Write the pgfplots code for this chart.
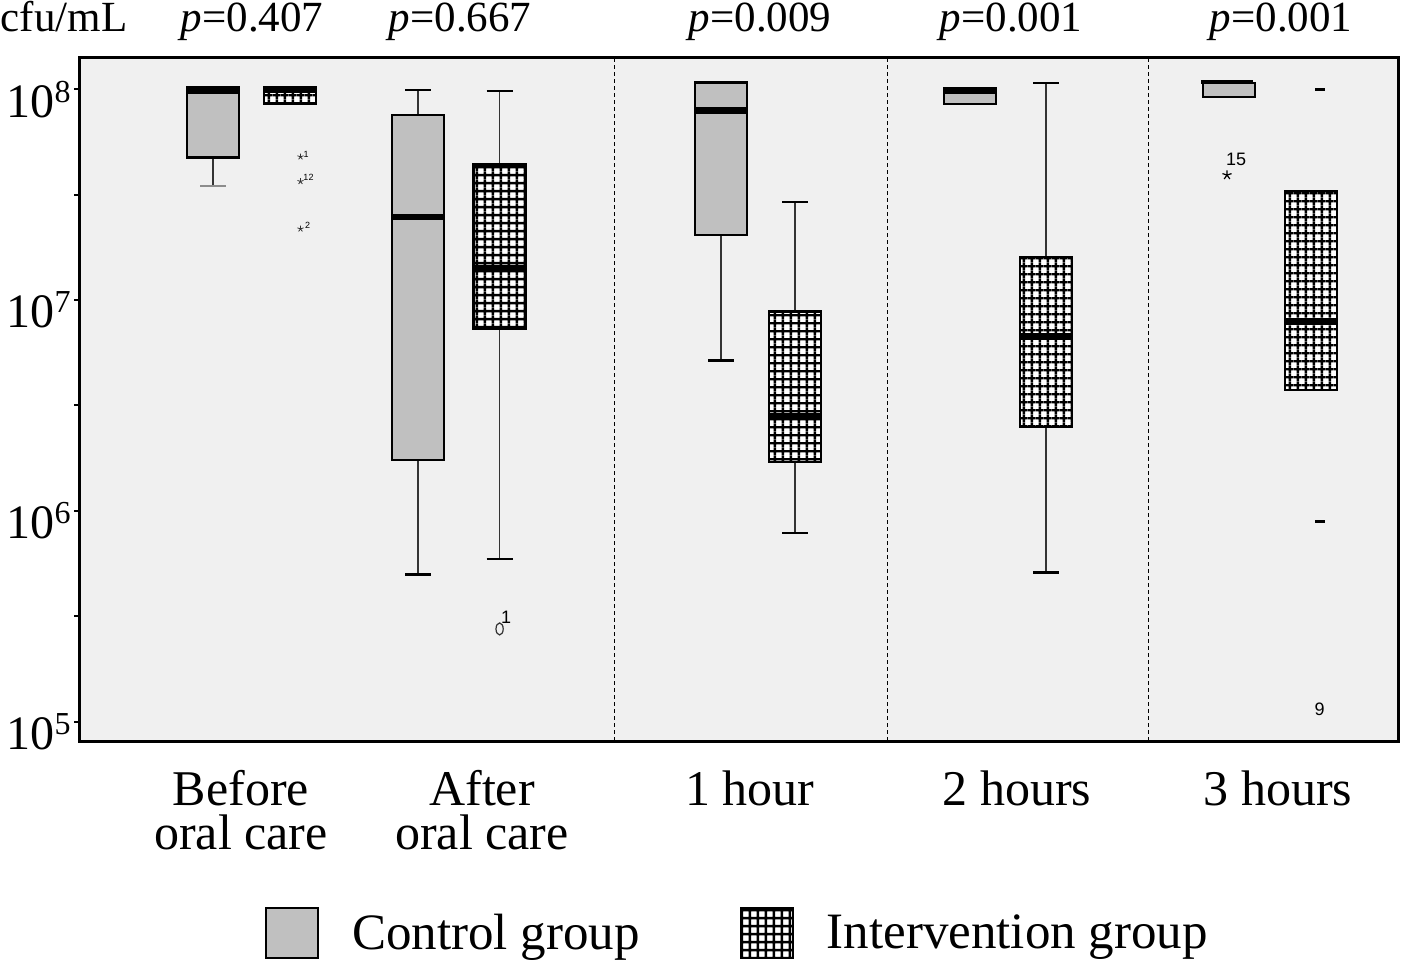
\documentclass[border=0pt]{standalone}
\usepackage{fontspec}
\setmainfont{Liberation Serif}
\newfontfamily\lsans{Liberation Sans}
\usepackage{pgfplots}
\pgfplotsset{compat=1.18}
\usetikzlibrary{patterns}
\definecolor{bg}{RGB}{240,240,240}
\definecolor{ctrl}{RGB}{192,192,192}
\pgfdeclarepatternformonly{mygrid}{\pgfpointorigin}{\pgfpoint{4.15bp}{4.15bp}}{\pgfpoint{4.15bp}{4.15bp}}{%
 \pgfsetlinewidth{1.25bp}%
 \pgfpathmoveto{\pgfpoint{0bp}{2.075bp}}\pgfpathlineto{\pgfpoint{4.15bp}{2.075bp}}%
 \pgfpathmoveto{\pgfpoint{2.075bp}{0bp}}\pgfpathlineto{\pgfpoint{2.075bp}{4.15bp}}%
 \pgfusepath{stroke}}
\pgfplotsset{
 cbox/.style={draw=black, fill=ctrl, line width=1.2bp, mark=none, forget plot},
 iwhite/.style={draw=none, fill=white, mark=none, forget plot},
 ibox/.style={draw=black, pattern=mygrid, line width=1.3bp, mark=none, forget plot},
 med/.style={black, line width=3.2bp, mark=none, forget plot},
 whi/.style={black!80, line width=0.9bp, mark=none, forget plot},
 cap/.style={black, line width=1.2bp, mark=none, forget plot},
}
\newcommand\lab[1]{{\lsans\fontsize{4.5bp}{5bp}\selectfont #1}}
\newcommand\labb[1]{{\lsans\fontsize{9bp}{10bp}\selectfont #1}}
\newcommand\tp[1]{10\raisebox{7.5bp}{\fontsize{16bp}{16bp}\selectfont #1}}
% y values are log10(cfu/mL); x in position units
\begin{document}
\begin{tikzpicture}
\useasboundingbox (0,0) rectangle (707bp,480.5bp);
\begin{axis}[
 at={(39.5bp,110bp)}, anchor=south west,
 scale only axis, width=659.5bp, height=341.5bp,
 xmin=79, xmax=1398,
 ymin=4.9084, ymax=8.1485,
 axis background/.style={fill=bg},
 axis line style={line width=1.5bp},
 clip=false,
 xtick={241,482,750,1017,1278},
 xticklabels={{Before\\oral care},{After\\oral care},{1 hour},{2 hours},{3 hours}},
 xtick style={draw=none},
 xticklabel style={align=center, anchor=north, inner sep=0pt, yshift=-12bp,
   font=\fontsize{25bp}{22bp}\selectfont},
 ytick={5,6,7,8},
 yticklabels={\tp{5},\tp{6},\tp{7},\tp{8}},
 extra y ticks={5.5,6.5,7.5},
 extra y tick labels={},
 tick pos=left, tick align=outside, major tick length=2.5bp,
 ytick style={line width=1bp, black},
 yticklabel style={inner sep=1.5bp, yshift=-5bp, font=\fontsize{24bp}{24bp}\selectfont},
 legend columns=2,
 legend style={at={(0.5,-0.281)}, anchor=center, draw=none, fill=none,
   font=\fontsize{25.5bp}{25.5bp}\selectfont,
   /tikz/every even column/.append style={column sep=48bp}},
]
% dashed separators
\addplot[black, line width=0.5bp, dash pattern=on 2bp off 1.5bp, forget plot] coordinates {(614,4.9084) (614,8.1485)};
\addplot[black, line width=0.5bp, dash pattern=on 2bp off 1.5bp, forget plot] coordinates {(887,4.9084) (887,8.1485)};
\addplot[black, line width=0.5bp, dash pattern=on 2bp off 1.5bp, forget plot] coordinates {(1148,4.9084) (1148,8.1485)};
% ---- Before oral care, control: pos 213, lw 7.540, lq 7.677, med 7.993, uq 8.009
\addplot[whi] coordinates {(213,7.677) (213,7.540)};
\addplot[cap, draw=black!45] coordinates {(200,7.540) (226,7.540)};
\addplot[cbox] coordinates {(187,7.677) (239,7.677) (239,8.009) (187,8.009)} -- cycle;
\addplot[med] coordinates {(187,7.993) (239,7.993)};
% ---- Before, intervention: pos 290, lq 7.934, med 7.996, uq 8.009
\addplot[iwhite] coordinates {(264,7.934) (316,7.934) (316,8.009) (264,8.009)} -- cycle;
\addplot[ibox] coordinates {(264,7.934) (316,7.934) (316,8.009) (264,8.009)} -- cycle;
\addplot[med] coordinates {(264,7.996) (316,7.996)};
% ---- After, control: pos 418, lw 5.699, lq 6.241, med 7.393, uq 7.877, uw 7.996
\addplot[whi] coordinates {(418,5.699) (418,6.241)};
\addplot[whi] coordinates {(418,7.877) (418,7.996)};
\addplot[cap] coordinates {(405,5.699) (431,5.699)};
\addplot[cap] coordinates {(405,7.996) (431,7.996)};
\addplot[cbox] coordinates {(392,6.241) (444,6.241) (444,7.877) (392,7.877)} -- cycle;
\addplot[med] coordinates {(392,7.393) (444,7.393)};
% ---- After, intervention: pos 499.5, lw 5.773, lq 6.866, med 7.151, uq 7.644, uw 7.991
\addplot[whi] coordinates {(499.5,5.773) (499.5,6.866)};
\addplot[whi] coordinates {(499.5,7.644) (499.5,7.991)};
\addplot[cap] coordinates {(486.5,5.773) (512.5,5.773)};
\addplot[cap] coordinates {(486.5,7.991) (512.5,7.991)};
\addplot[iwhite] coordinates {(473.5,6.866) (525.5,6.866) (525.5,7.644) (473.5,7.644)} -- cycle;
\addplot[ibox] coordinates {(473.5,6.866) (525.5,6.866) (525.5,7.644) (473.5,7.644)} -- cycle;
\addplot[med] coordinates {(473.5,7.151) (525.5,7.151)};
% ---- 1 hour, control: pos 721, lw 6.714, lq 7.310, med 7.900, uq 8.033
\addplot[whi] coordinates {(721,6.714) (721,7.310)};
\addplot[cap] coordinates {(708,6.714) (734,6.714)};
\addplot[cbox] coordinates {(695,7.310) (747,7.310) (747,8.033) (695,8.033)} -- cycle;
\addplot[med] coordinates {(695,7.900) (747,7.900)};
% ---- 1 hour, intervention: pos 795, lw 5.895, lq 6.232, med 6.450, uq 6.945, uw 7.465
\addplot[whi] coordinates {(795,5.895) (795,6.232)};
\addplot[whi] coordinates {(795,6.945) (795,7.465)};
\addplot[cap] coordinates {(782,5.895) (808,5.895)};
\addplot[cap] coordinates {(782,7.465) (808,7.465)};
\addplot[iwhite] coordinates {(769,6.232) (821,6.232) (821,6.945) (769,6.945)} -- cycle;
\addplot[ibox] coordinates {(769,6.232) (821,6.232) (821,6.945) (769,6.945)} -- cycle;
\addplot[med] coordinates {(769,6.450) (821,6.450)};
% ---- 2 hours, control: pos 970, lq 7.930, med 7.989, uq 8.004
\addplot[cbox] coordinates {(944,7.930) (996,7.930) (996,8.004) (944,8.004)} -- cycle;
\addplot[med] coordinates {(944,7.992) (996,7.992)};
% ---- 2 hours, intervention: pos 1046, lw 5.708, lq 6.398, med 6.827, uq 7.204, uw 8.029
\addplot[whi] coordinates {(1046,5.708) (1046,6.398)};
\addplot[whi] coordinates {(1046,7.204) (1046,8.029)};
\addplot[cap] coordinates {(1033,5.708) (1059,5.708)};
\addplot[cap] coordinates {(1033,8.029) (1059,8.029)};
\addplot[iwhite] coordinates {(1020,6.398) (1072,6.398) (1072,7.204) (1020,7.204)} -- cycle;
\addplot[ibox] coordinates {(1020,6.398) (1072,6.398) (1072,7.204) (1020,7.204)} -- cycle;
\addplot[med] coordinates {(1020,6.827) (1072,6.827)};
% ---- 3 hours, control: pos 1229, lq 7.963, med 8.025, uq 8.030
\addplot[cbox] coordinates {(1203,7.963) (1255,7.963) (1255,8.030) (1203,8.030)} -- cycle;
\addplot[black, line width=2bp, mark=none, forget plot] coordinates {(1201,8.035) (1253,8.035)};
% ---- 3 hours, intervention: pos 1311, lq 6.574, med 6.898, uq 7.518
\addplot[iwhite] coordinates {(1285,6.574) (1337,6.574) (1337,7.518) (1285,7.518)} -- cycle;
\addplot[ibox] coordinates {(1285,6.574) (1337,6.574) (1337,7.518) (1285,7.518)} -- cycle;
\addplot[med] coordinates {(1285,6.898) (1337,6.898)};
% outliers
\addplot[only marks, forget plot, mark=star, mark size=1.6bp, mark options={line width=0.4bp, black!80}] coordinates {(300.5,7.680) (300.5,7.563) (300.5,7.338)};
\addplot[only marks, forget plot, mark=star, mark size=2.4bp, mark options={line width=0.6bp, black}] coordinates {(1227,7.593)};
\addplot[only marks, forget plot, mark=o, mark size=3bp, mark options={line width=0.6bp, black!80, xscale=0.6}] coordinates {(499.6,5.440)};
\addplot[only marks, forget plot, mark=-, mark size=2.3bp, mark options={line width=1.4bp, black}] coordinates {(1320,8.0) (1320,5.949)};
\node at (axis cs:306,7.691) {\lab{1}};
\node at (axis cs:308.5,7.582) {\lab{12}};
\node at (axis cs:307.5,7.354) {\lab{2}};
\node at (axis cs:506,5.494) {\labb{1}};
\node at (axis cs:1236,7.669) {\labb{15}};
\node at (axis cs:1319.5,5.058) {\labb{9}};
% top annotations
\node[anchor=base, font=\fontsize{21.5bp}{21.5bp}\selectfont] at (axis cs:64,8.2718) {cfu/mL};
\node[anchor=base, font=\fontsize{21.5bp}{21.5bp}\selectfont] at (axis cs:252,8.2718) {\textit{p}=0.407};
\node[anchor=base, font=\fontsize{21.5bp}{21.5bp}\selectfont] at (axis cs:460,8.2718) {\textit{p}=0.667};
\node[anchor=base, font=\fontsize{21.5bp}{21.5bp}\selectfont] at (axis cs:760,8.2718) {\textit{p}=0.009};
\node[anchor=base, font=\fontsize{21.5bp}{21.5bp}\selectfont] at (axis cs:1011,8.2718) {\textit{p}=0.001};
\node[anchor=base, font=\fontsize{21.5bp}{21.5bp}\selectfont] at (axis cs:1281,8.2718) {\textit{p}=0.001};
% legend
\addlegendimage{legend image code/.code={\path[draw=none,fill=none] (0bp,0bp) rectangle (41bp,0bp);\draw[line width=1bp, fill=ctrl] (0bp,-12.5bp) rectangle (26bp,12.5bp);}}
\addlegendentry{Control group}
\addlegendimage{legend image code/.code={\path[draw=none,fill=none] (0bp,0bp) rectangle (41bp,0bp);\fill[white] (0bp,-12.5bp) rectangle (26bp,12.5bp);\draw[line width=1bp, pattern=mygrid] (0bp,-12.5bp) rectangle (26bp,12.5bp);}}
\addlegendentry{Intervention group}
\end{axis}
\end{tikzpicture}
\end{document}
